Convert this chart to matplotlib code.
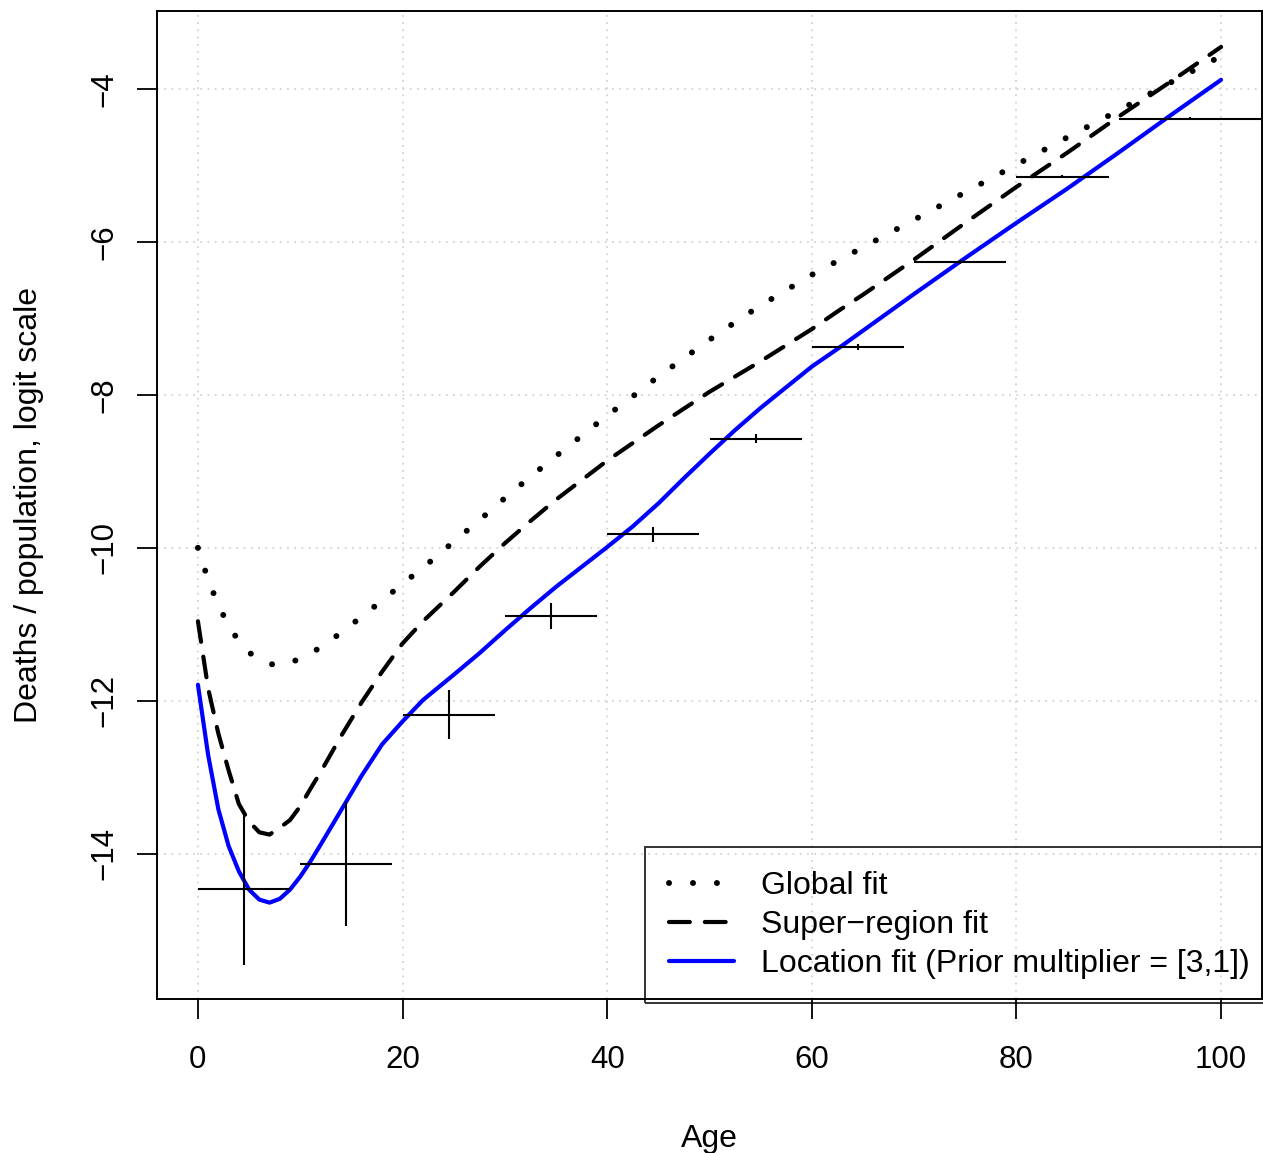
import numpy as np
import matplotlib.pyplot as plt

plt.rcParams['font.family'] = ['Liberation Sans', 'DejaVu Sans']

# fitted curves (age, logit of deaths/population)
fit_age = [0, 1, 2, 3, 4, 5, 6, 7, 8, 9, 10, 11, 12, 14, 16, 18, 20, 22,
           25, 27.5, 30, 32.5, 35, 40, 42.5, 45, 47.5, 50, 52.5, 55, 57.5, 60, 62.5,
           65, 70, 75, 80, 85, 90, 95, 100]
global_fit = [-10.00, -10.42, -10.75, -11.02, -11.22, -11.37, -11.45, -11.52, -11.53, -11.50,
              -11.45, -11.38, -11.30, -11.11, -10.90, -10.69, -10.47, -10.26,
              -9.92, -9.64, -9.35, -9.07, -8.80, -8.27, -8.02, -7.76, -7.52, -7.28, -7.05,
              -6.83, -6.63, -6.43, -6.25,
              -6.07, -5.71, -5.35, -4.99, -4.63, -4.28, -3.92, -3.57]
superregion_fit = [-10.96, -11.84, -12.43, -12.91, -13.35, -13.58, -13.72, -13.75, -13.66, -13.56,
                   -13.38, -13.15, -12.93, -12.46, -12.02, -11.62, -11.25, -10.96,
                   -10.58, -10.25, -9.94, -9.65, -9.37, -8.86, -8.63, -8.40, -8.18, -7.96, -7.76,
                   -7.56, -7.35, -7.14, -6.91,
                   -6.69, -6.23, -5.75, -5.28, -4.83, -4.36, -3.91, -3.45]
location_fit = [-11.79, -12.71, -13.42, -13.90, -14.23, -14.47, -14.60, -14.64, -14.59, -14.47,
                -14.30, -14.10, -13.88, -13.43, -12.98, -12.57, -12.27, -11.99,
                -11.66, -11.38, -11.08, -10.79, -10.51, -9.99, -9.72, -9.42, -9.09, -8.77, -8.46,
                -8.17, -7.90, -7.63, -7.40,
                -7.16, -6.68, -6.21, -5.75, -5.30, -4.83, -4.35, -3.88]

# observed data: age groups, value and uncertainty interval
age_lo = [0, 10, 20, 30, 40, 50, 60, 70, 80, 90]
age_hi = [9, 19, 29, 39, 49, 59, 69, 79, 89, 104]
obs = [-14.46, -14.13, -12.18, -10.89, -9.82, -8.575, -7.376, -6.265, -5.15, -4.39]
obs_lo = [-15.45, -14.94, -12.50, -11.06, -9.92, -8.63, -7.41, -6.29, -5.17, -4.41]
obs_hi = [-13.49, -13.32, -11.86, -10.72, -9.73, -8.51, -7.34, -6.24, -5.13, -4.37]

fig = plt.figure( figsize=( 12.63, 11.53 ), dpi=100 )
ax = fig.add_axes( [ 157/1263, 1 - 999/1153, (1262 - 157)/1263, (999 - 11)/1153 ] )

xticks = np.arange( 0, 101, 20 )
yticks = np.arange( -14, -3, 2 )
for xv in xticks:
    ax.axvline( xv, color='#d3d3d3', lw=1.3, linestyle=( 0, ( 1, 3 ) ), zorder=0 )
for yv in yticks:
    ax.axhline( yv, color='#d3d3d3', lw=1.3, linestyle=( 0, ( 1, 3 ) ), zorder=0 )

ax.plot( fit_age, global_fit, color='black', lw=4.3, linestyle=( 0, ( 0.01, 4.0 ) ),
         dash_capstyle='round', label='Global fit' )
ax.plot( fit_age, superregion_fit, color='black', lw=3.0, linestyle=( 0, ( 5, 3.6 ) ),
         dash_capstyle='round', label='Super\u2212region fit' )
ax.plot( fit_age, location_fit, color='#0000ff', lw=3.0, solid_capstyle='round',
         solid_joinstyle='round', label='Location fit (Prior multiplier = [3,1])' )

mid = [ 0.5*( a + b ) for a, b in zip( age_lo, age_hi ) ]
ax.hlines( obs, age_lo, age_hi, color='black', lw=1.5 )
ax.vlines( mid, obs_lo, obs_hi, color='black', lw=1.5 )

ax.set_xlim( -4, 104 )
ax.set_ylim( -15.9, -2.98 )
ax.set_xticks( xticks )
ax.set_yticks( yticks )
ax.tick_params( axis='both', labelsize=22.5, length=14.4, width=1.3 )
ax.tick_params( axis='x', pad=19 )
ax.tick_params( axis='y', pad=13 )
for lab in ax.get_yticklabels():
    lab.set_rotation( 90 )
    lab.set_va( 'center' )
for sp in ax.spines.values():
    sp.set_linewidth( 1.4 )

ax.set_xlabel( 'Age', fontsize=23, labelpad=35 )
ax.set_ylabel( 'Deaths / population, logit scale', fontsize=23, labelpad=32 )

leg = ax.legend( loc='upper left', bbox_to_anchor=( ( 645 - 157 )/1105, ( 999 - 847 )/988 ),
                 borderaxespad=0, fontsize=23, handlelength=2.04, handletextpad=0.85,
                 borderpad=0.75, labelspacing=0.28, fancybox=False, frameon=True )
leg.get_frame().set_edgecolor( 'black' )
leg.get_frame().set_linewidth( 1.4 )
leg.get_frame().set_facecolor( 'none' )

fig.savefig( 'out.png', dpi=100 )
